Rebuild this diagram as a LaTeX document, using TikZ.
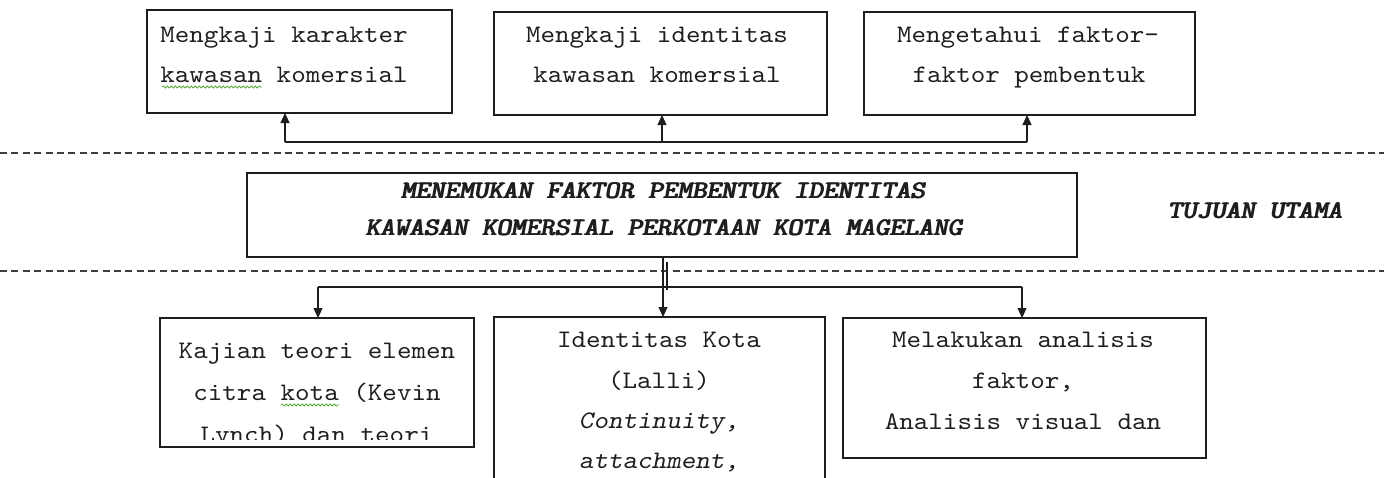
\documentclass[tikz,border=0pt]{standalone}
\usepackage{fontspec}
\newfontfamily\cour{lmmono10-regular}[Extension=.otf,
  ItalicFont=lmmonoslant10-regular,
  FakeStretch=1.1]
\newcommand\heavytxt[1]{\leavevmode\rlap{#1}\hspace{0.35pt}\rlap{#1}\hspace{0.35pt}#1}
\usetikzlibrary{arrows.meta,decorations.pathmorphing}
\definecolor{ink}{RGB}{30,30,30}
\definecolor{dashc}{RGB}{60,60,60}
\definecolor{squig}{RGB}{90,170,60}
\begin{document}
\begin{tikzpicture}[x=0.5pt,y=-0.5pt,
  box/.style={draw=ink,line width=0.8pt,inner sep=0pt,outer sep=0pt,rectangle},
  txt/.style={anchor=base,inner sep=0pt,text=ink,font=\cour\fontsize{12.6}{14}\selectfont},
  itx/.style={txt,font=\cour\itshape\fontsize{12.6}{14}\selectfont},
  btx/.style={txt,font=\cour\itshape\fontsize{12.6}{14}\selectfont},
  conn/.style={draw=ink,line width=0.55pt},
  arr/.style={conn,-{Triangle[length=5pt,width=4.5pt]}},
  sep/.style={draw=dashc,line width=0.6pt,dash pattern=on 3.5pt off 2.2pt},
  wavy/.style={draw=squig,line width=0.4pt,decorate,decoration={snake,amplitude=0.5pt,segment length=2pt}}]
\clip (0,0) rectangle (1384,477);
\fill[white] (0,0) rectangle (1384,477);

% top boxes
\node[box,minimum width=152.5pt,minimum height=51.5pt] (box1) at (299.5,61.5) {};
\node[box,minimum width=166.5pt,minimum height=51.5pt] (box2) at (660.5,63.5) {};
\node[box,minimum width=165.5pt,minimum height=51.5pt] (box3) at (1029.5,63.5) {};
\node[txt] (k1a) at (284,42) {Mengkaji karakter};
\node[txt] (k1b) at (284,82) {kawasan komersial};
\node[txt] (k2a) at (657,42) {Mengkaji identitas};
\node[txt] (k2b) at (657,82) {kawasan komersial};
\node[txt] (k3a) at (1028,42) {Mengetahui faktor-};
\node[txt] (k3b) at (1029,82) {faktor pembentuk};
\coordinate (w1s) at (162,87); \coordinate (w1e) at (262,87);
\draw[wavy] (w1s) -- (w1e);

% top bus
\coordinate (t1) at (285,142);
\coordinate (t2) at (662,142);
\coordinate (t3) at (1027,142);
\draw[conn] (t1) -- (t3);
\draw[arr] (t1) -- (t1 |- box1.south);
\draw[arr] (t2) -- (t2 |- box2.south);
\draw[arr] (t3) -- (t3 |- box3.south);

% separators
\coordinate (s1a) at (0,153); \coordinate (s1b) at (1384,153);
\coordinate (s2a) at (0,271); \coordinate (s2b) at (1384,271);
\draw[sep] (s1a) -- (s1b);
\draw[sep] (s2a) -- (s2b);

% main goal
\node[box,minimum width=415pt,minimum height=42pt] (mid) at (662,215) {};
\node[btx] (m1) at (663,198) {\heavytxt{MENEMUKAN FAKTOR PEMBENTUK IDENTITAS}};
\node[btx] (m2) at (664,235) {\heavytxt{KAWASAN KOMERSIAL PERKOTAAN KOTA MAGELANG}};
\node[btx] (tu) at (1255,218) {\heavytxt{TUJUAN UTAMA}};

% bottom boxes
\node[box,minimum width=157pt,minimum height=64.5pt] (boxL) at (317,382.5) {};
\node[box,minimum width=165.5pt,minimum height=110pt] (boxM) at (659.5,427) {};
\node[box,minimum width=181.5pt,minimum height=70pt] (boxR) at (1024.5,388) {};

\node[txt] (l1) at (317,358) {Kajian teori elemen};
\node[txt] (l2) at (317,400) {citra kota (Kevin};
\begin{scope}
\clip (160,318) rectangle (474,439);
\node[txt] (l3) at (317,442) {Lynch) dan teori};
\end{scope}
\coordinate (w2s) at (281,405); \coordinate (w2e) at (339,405);
\draw[wavy] (w2s) -- (w2e);

\node[txt] (c1) at (659,347) {Identitas Kota};
\node[txt] (c2) at (659,388) {(Lalli)};
\node[itx] (c3) at (659,428) {Continuity,};
\node[itx] (c4) at (659,468) {attachment,};

\node[txt] (r1) at (1023,347) {Melakukan analisis};
\node[txt] (r2) at (1023,388) {faktor,};
\node[txt] (r3) at (1023,429) {Analisis visual dan};

% bottom bus
\coordinate (b1) at (318,287);
\coordinate (b2) at (663,287);
\coordinate (b3) at (1022,287);
\coordinate (d1) at (667,262);
\coordinate (d2) at (667,290);
\draw[conn] (b1) -- (b3);
\draw[arr] (b2 |- mid.south) -- (b2 |- boxM.north);
\draw[conn] (d1) -- (d2);
\draw[arr] (b1) -- (b1 |- boxL.north);
\draw[arr] (b3) -- (b3 |- boxR.north);
\end{tikzpicture}
\end{document}
